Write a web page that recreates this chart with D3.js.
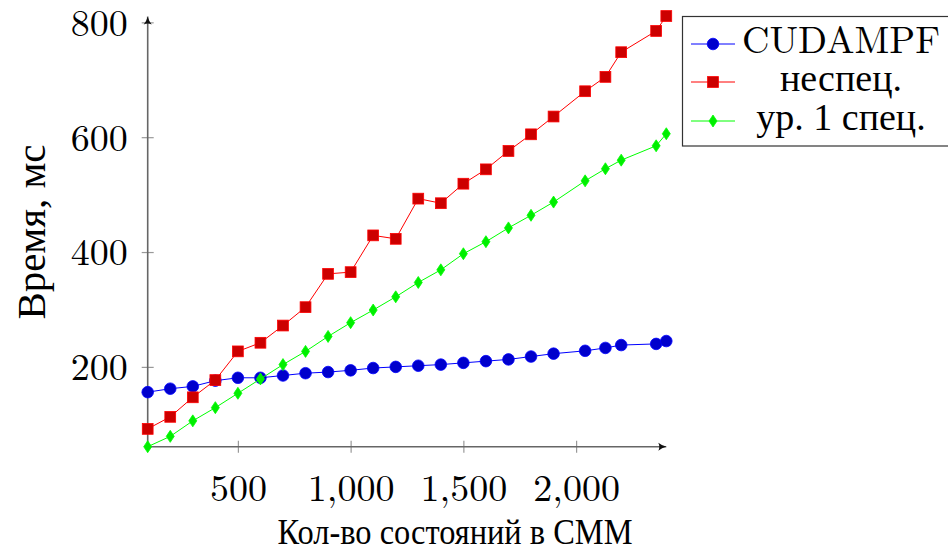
<!DOCTYPE html>
<html><head><meta charset="utf-8">
<script src="https://cdn.jsdelivr.net/npm/d3@7"></script>
<style>
html,body{margin:0;padding:0;background:#fff;}
svg{display:block;}
</style></head>
<body><svg id="chart" width="948" height="555"></svg>
<script>
// ---- data ----
const xValues = [100,200,300,400,500,600,700,800,900,1000,1100,1200,1300,1400,1500,1600,1700,1800,1900,2040,2130,2200,2355,2400];
const cudampf = [156,162,166,176,181,181,185,189,191,194,198,200,202,204,207,210,213,218,223,228,233,238,240,245];
const nonspec = [92,113,147,177,227,242,272,304,362,365,429,423,493,485,519,544,576,605,636,680,705,748,785,811];
const spec1   = [61,79,106,129,154,179,204,227,253,277,299,322,347,369,397,418,442,464,487,524,545,560,585,606];
const seriesNames = ["CUDAMPF","неспец.","ур. 1 спец."];
const yTickValues = [200,400,600,800];
const xTickValues = [500,1000,1500,2000];
const xLabel = "Кол-во состояний в СММ";
const yLabel = "Время, мс";
const xMin = 100, xMax = 2400, yMin = 61, yMax = 810;

// ---- layout ----
const LATIN = "'Latin Modern Roman', 'Liberation Serif', serif";
const CYR = "'Liberation Serif', serif";
const fontFor = t => /[\u0400-\u04FF]/.test(t) ? CYR : LATIN;
const svg = d3.select("#chart");
const x = d3.scaleLinear().domain([xMin, xMax]).range([147.7, 666.3]);
const y = d3.scaleLinear().domain([yMin, yMax]).range([446.7, 16.6]);
const FS = 38;

const series = [
  {name: seriesNames[0], values: cudampf, line: "#0000ff", fill: "#0000cc", shape: "circle"},
  {name: seriesNames[1], values: nonspec, line: "#ff0000", fill: "#cc0000", shape: "square"},
  {name: seriesNames[2], values: spec1,   line: "#00ff00", fill: "#00ee00", shape: "diamond"}
];

// arrow marker
const defs = svg.append("defs");
defs.append("marker").attr("id","arrow").attr("viewBox","-10 -5 10 10")
  .attr("refX",0).attr("refY",0).attr("markerWidth",10).attr("markerHeight",10)
  .attr("markerUnits","userSpaceOnUse").attr("orient","auto")
  .append("path").attr("d","M-8,-4 Q-4,-1 0,0 Q-4,1 -8,4 Q-6,0 -8,-4Z").attr("fill","#111");

// axes
const yAxis = d3.axisLeft(y).tickValues(yTickValues).tickSizeInner(6).tickSizeOuter(0).tickPadding(14).tickFormat(d3.format("d"));
const gy = svg.append("g").attr("transform", `translate(${x(xMin)},0)`).call(yAxis);
gy.select(".domain").remove();
gy.selectAll(".tick line").attr("x1",-6).attr("x2",6).attr("stroke","#999").attr("stroke-width",1.2);
gy.selectAll(".tick text").style("font-size",FS+"px").style("font-family",LATIN).attr("fill","#000").attr("dy","0.34em");

const xAxis = d3.axisBottom(x).tickValues(xTickValues).tickSizeInner(6).tickSizeOuter(0).tickPadding(21).tickFormat(d3.format(","));
const gx = svg.append("g").attr("transform", `translate(0,${y(yMin)})`).call(xAxis);
gx.select(".domain").remove();
gx.selectAll(".tick line").attr("y1",-6).attr("y2",6).attr("stroke","#999").attr("stroke-width",1.2);
gx.selectAll(".tick text").style("font-size",FS+"px").style("font-family",LATIN).attr("fill","#000");

// axis lines with arrows
svg.append("line").attr("x1",x(xMin)).attr("y1",y(yMin)).attr("x2",x(xMax)).attr("y2",y(yMin))
  .attr("stroke","#666").attr("stroke-width",1.6).attr("marker-end","url(#arrow)");
svg.append("line").attr("x1",x(xMin)).attr("y1",y(yMin)).attr("x2",x(xMin)).attr("y2",y(yMax))
  .attr("stroke","#666").attr("stroke-width",1.6).attr("marker-end","url(#arrow)");

// series
function drawMarker(g, shape, cx, cy, s) {
  if (shape === "circle") {
    g.append("circle").attr("cx",cx).attr("cy",cy).attr("r",5.8).attr("fill",s.fill).attr("stroke",s.line).attr("stroke-width",0.8);
  } else if (shape === "square") {
    g.append("rect").attr("x",cx-5.4).attr("y",cy-5.4).attr("width",10.8).attr("height",10.8).attr("fill",s.fill).attr("stroke",s.line).attr("stroke-width",0.8);
  } else {
    g.append("path").attr("d",`M${cx},${cy-6} L${cx+4},${cy} L${cx},${cy+6} L${cx-4},${cy}Z`).attr("fill",s.fill).attr("stroke",s.line).attr("stroke-width",0.8);
  }
}
const line = d3.line().x(d => x(d[0])).y(d => y(d[1]));
series.forEach(s => {
  const pts = xValues.map((xv,i) => [xv, s.values[i]]);
  const g = svg.append("g");
  g.append("path").attr("d", line(pts)).attr("fill","none").attr("stroke",s.line).attr("stroke-width",1);
  pts.forEach(p => drawMarker(g, s.shape, x(p[0]), y(p[1]), s));
});

// axis labels
svg.append("text").attr("x",455).attr("y",544).attr("text-anchor","middle")
  .style("font-size","35px").style("font-family",CYR)
  .attr("textLength",355).attr("lengthAdjust","spacingAndGlyphs").text(xLabel);
svg.append("text").attr("transform","translate(45,232) rotate(-90)").attr("text-anchor","middle")
  .style("font-size","40px").style("font-family",CYR)
  .attr("textLength",175).attr("lengthAdjust","spacingAndGlyphs").text(yLabel);

// legend
const lg = svg.append("g");
lg.append("rect").attr("x",682.5).attr("y",16.5).attr("width",280).attr("height",129.5)
  .attr("fill","#fff").attr("stroke","#333").attr("stroke-width",1.2);
const rowY = [44, 82, 121];
series.forEach((s,i) => {
  lg.append("line").attr("x1",691).attr("x2",735).attr("y1",rowY[i]).attr("y2",rowY[i]).attr("stroke",s.line).attr("stroke-width",1);
  drawMarker(lg, s.shape, 713, rowY[i], s);
  lg.append("text").attr("x",841).attr("y",rowY[i]+9).attr("text-anchor","middle")
    .style("font-size",FS+"px").style("font-family",fontFor(s.name)).text(s.name);
});
</script></body></html>
